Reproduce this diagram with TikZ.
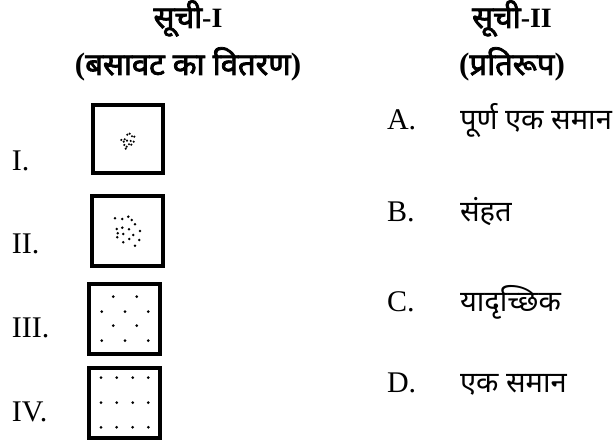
\documentclass[tikz,border=0pt]{standalone}
\usepackage{fontspec}
\setmainfont{Liberation Serif}
\newfontfamily\dev[Script=Devanagari, Scale=0.97]{Noto Sans}
\newfontfamily\devb[Script=Devanagari, FakeBold=2.5]{Noto Sans}
\newcommand{\smallhd}{\fontsize{28}{32}\selectfont}
\begin{document}
\begin{tikzpicture}[x=1pt,y=-1pt,
  every node/.style={inner sep=0pt, outer sep=0pt, font=\fontsize{30}{34}\selectfont},
  hd/.style={anchor=base, font=\fontsize{31}{36}\selectfont\bfseries},
  lbl/.style={anchor=base west},
  boxframe/.style={draw, line width=4pt, minimum width=71pt, minimum height=70pt},
  dotp/.style={fill=black}]
\useasboundingbox (0,0) rectangle (614,446);
% headings
\node[hd] (h1) at (188,28) {{\devb सूची}{\smallhd -I}};
\node[hd] (h1b) at (188,75) {({\devb बसावट का वितरण})};
\node[hd] (h2) at (512,28) {{\devb सूची}{\smallhd -II}};
\node[hd] (h2b) at (512,75) {({\devb प्रतिरूप})};
% left labels
\node[lbl] (l1) at (12,171) {I.};
\node[lbl] (l2) at (12,254) {II.};
\node[lbl] (l3) at (12,338) {III.};
\node[lbl] (l4) at (12,422) {IV.};
% boxes
\node[boxframe, minimum width=70pt, minimum height=68pt] (b1) at (128.2,139.2) {};
\node[boxframe] (b2) at (127.5,230.8) {};
\node[boxframe] (b3) at (124.9,318.7) {};
\node[boxframe] (b4) at (124.9,403.3) {};
% dots box I (clustered)
\foreach \p in {(124.7,139.3),(127.3,134.7),(129.7,133.7),(132,136.3),(134.3,136.7),(121.3,140),(123.7,141.7),(127,140.7),(130.7,141),(133.7,141.7),(124.3,145),(126.7,146.7),(129,144.3),(131.3,144.7),(125.7,148.7)}
  \fill[dotp] \p circle (1.2);
% dots box II (more spread)
\foreach \p in {(115,218.3),(122.3,219),(128.3,216.7),(131.7,220),(135,224.3),(116.7,229),(122.3,227.7),(129,229.3),(140,231),(117.7,233.3),(123.3,234),(133.3,235),(117.3,237.3),(129.3,239),(139.3,240),(123.3,242.3),(135,245.7)}
  \fill[dotp] \p circle (1.4);
% dots box III (random)
\foreach \p in {(113.3,296.7),(136.7,296.7),(101.7,311.7),(125,311.7),(148.3,311.7),(113.3,325.7),(136.7,325.7),(101.7,340.7),(125,340.7),(148.3,340.7)}
  \fill[dotp] \p circle (1.5);
% dots box IV (uniform)
\foreach \x in {101,116.7,132.7,148.3}
  \foreach \y in {377.7,402.7,427.3}
    \fill[dotp] (\x,\y) circle (1.5);
% right column
\node[lbl] (a) at (387,130) {A.};
\node[lbl] (ta) at (460,130) {\dev पूर्ण एक समान};
\node[lbl] (b) at (387,222) {B.};
\node[lbl] (tb) at (460,222) {\dev संहत};
\node[lbl] (c) at (387,312) {C.};
\node[lbl] (tc) at (460,312) {\dev यादृच्छिक};
\node[lbl] (d) at (387,393) {D.};
\node[lbl] (td) at (460,393) {\dev एक समान};
\end{tikzpicture}
\end{document}
